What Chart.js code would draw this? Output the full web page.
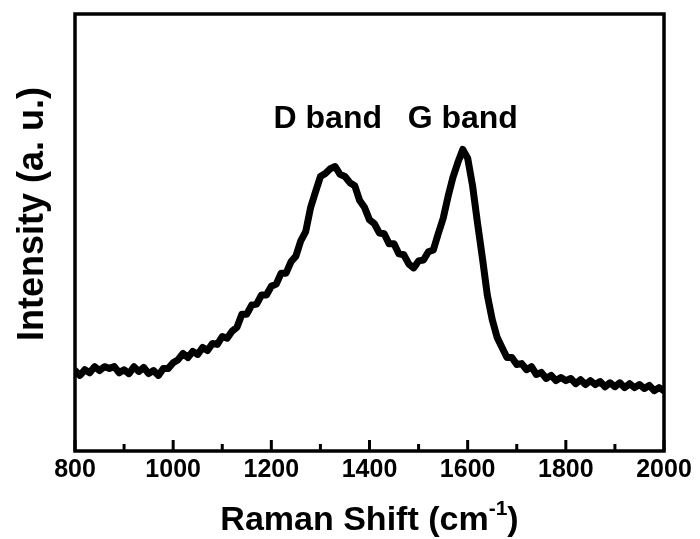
<!DOCTYPE html>
<html>
<head>
<meta charset="utf-8">
<script src="https://cdn.jsdelivr.net/npm/chart.js@4.4.1/dist/chart.umd.min.js"></script>
<style>
  body { margin: 0; background: #fff; }
  canvas { display: block; }
</style>
</head>
<body>
<canvas id="ramanChart" width="700" height="539"></canvas>
<script>
const FONT = '"Liberation Sans", Arial, sans-serif';

// Raman shift (cm-1) and measured intensity (arbitrary units, 0..1000)
const ramanShift = [
  800, 810, 820, 830, 840, 850, 860, 870, 880, 890,
  900, 910, 920, 930, 940, 950, 960, 970, 980, 990,
  1000, 1010, 1020, 1030, 1040, 1050, 1060, 1070, 1080, 1090,
  1100, 1110, 1120, 1130, 1140, 1150, 1160, 1170, 1180, 1190,
  1200, 1210, 1220, 1230, 1240, 1250, 1260, 1270, 1280, 1290,
  1300, 1310, 1320, 1330, 1340, 1350, 1360, 1370, 1380, 1390,
  1400, 1410, 1420, 1430, 1440, 1450, 1460, 1470, 1480, 1490,
  1500, 1510, 1520, 1530, 1540, 1550, 1560, 1570, 1580, 1590,
  1600, 1610, 1620, 1630, 1640, 1650, 1660, 1670, 1680, 1690,
  1700, 1710, 1720, 1730, 1740, 1750, 1760, 1770, 1780, 1790,
  1800, 1810, 1820, 1830, 1840, 1850, 1860, 1870, 1880, 1890,
  1900, 1910, 1920, 1930, 1940, 1950, 1960, 1970, 1980, 1990,
  2000
];
const intensity = [
  184, 173, 186, 179, 193, 184, 193, 189, 193, 179,
  186, 177, 193, 182, 191, 177, 184, 173, 189, 189,
  202, 209, 223, 214, 228, 221, 237, 230, 246, 244,
  262, 258, 274, 283, 313, 313, 334, 336, 357, 357,
  377, 382, 407, 407, 433, 446, 481, 502, 557, 593,
  628, 635, 646, 651, 633, 628, 614, 607, 573, 557,
  529, 520, 499, 497, 474, 474, 451, 449, 428, 419,
  435, 437, 456, 460, 497, 532, 582, 626, 660, 690,
  670, 607, 522, 442, 357, 301, 260, 237, 214, 214,
  198, 200, 186, 193, 175, 180, 166, 173, 161, 168,
  161, 166, 154, 163, 152, 161, 152, 159, 147, 156,
  147, 156, 145, 154, 145, 152, 143, 150, 138, 145,
  138
];

// peak annotations
const bandNames = ['D band', 'G band'];
const bandShift = [1315, 1590];
const bandLevel = 738;

const minorTicks = [900, 1100, 1300, 1500, 1700, 1900];
const majorTicks = [800, 1000, 1200, 1400, 1600, 1800, 2000];

const framePlugin = {
  id: 'frame',
  beforeDraw(chart) {
    const ctx = chart.ctx;
    ctx.save();
    ctx.fillStyle = '#fff';
    ctx.fillRect(0, 0, chart.width, chart.height);
    ctx.restore();
  },
  afterDatasetsDraw(chart) {
    const { ctx, chartArea: a, scales: { x } } = chart;
    ctx.save();
    ctx.strokeStyle = '#000';
    ctx.lineWidth = 3.5;
    ctx.strokeRect(a.left, a.top, a.right - a.left, a.bottom - a.top);
    // inward ticks on the bottom axis
    ctx.lineWidth = 3;
    ctx.beginPath();
    majorTicks.forEach(v => {
      const px = x.getPixelForValue(v);
      ctx.moveTo(px, a.bottom);
      ctx.lineTo(px, a.bottom - 11);
    });
    minorTicks.forEach(v => {
      const px = x.getPixelForValue(v);
      ctx.moveTo(px, a.bottom);
      ctx.lineTo(px, a.bottom - 7);
    });
    ctx.stroke();
    ctx.restore();
  },
  afterDraw(chart) {
    const { ctx, chartArea: a, scales: { x, y } } = chart;
    ctx.save();
    ctx.fillStyle = '#000';

    // band labels
    ctx.font = 'bold 32px ' + FONT;
    ctx.textAlign = 'center';
    ctx.textBaseline = 'alphabetic';
    bandNames.forEach((name, i) => {
      ctx.fillText(name, x.getPixelForValue(bandShift[i]), y.getPixelForValue(bandLevel));
    });

    // x axis title with superscript
    const main = 'Raman Shift (cm';
    const sup = '-1';
    const close = ')';
    ctx.font = 'bold 34px ' + FONT;
    const wMain = ctx.measureText(main).width;
    const wClose = ctx.measureText(close).width;
    ctx.font = 'bold 21px ' + FONT;
    const wSup = ctx.measureText(sup).width;
    const total = wMain + wSup + wClose;
    let tx = (a.left + a.right) / 2 - total / 2;
    const base = 530;
    ctx.textAlign = 'left';
    ctx.font = 'bold 34px ' + FONT;
    ctx.fillText(main, tx, base);
    tx += wMain;
    ctx.font = 'bold 21px ' + FONT;
    ctx.fillText(sup, tx, base - 15);
    tx += wSup;
    ctx.font = 'bold 34px ' + FONT;
    ctx.fillText(close, tx, base);

    // y axis title
    ctx.translate(43, 214);
    ctx.rotate(-Math.PI / 2);
    ctx.textAlign = 'center';
    ctx.font = 'bold 36px ' + FONT;
    ctx.fillText('Intensity (a. u.)', 0, 0);
    ctx.restore();
  }
};

new Chart(document.getElementById('ramanChart'), {
  type: 'line',
  data: {
    datasets: [{
      data: ramanShift.map((s, i) => ({ x: s, y: intensity[i] })),
      borderColor: '#000',
      borderWidth: 7,
      borderJoinStyle: 'round',
      borderCapStyle: 'round',
      pointRadius: 0,
      tension: 0,
      fill: false
    }]
  },
  options: {
    responsive: false,
    animation: false,
    layout: { padding: { left: 75, right: 36, top: 14, bottom: 50 } },
    plugins: {
      legend: { display: false },
      tooltip: { enabled: false }
    },
    scales: {
      x: {
        type: 'linear',
        min: 800,
        max: 2000,
        grid: { display: false, drawTicks: false },
        border: { display: false },
        ticks: {
          stepSize: 200,
          padding: 4,
          maxRotation: 0,
          color: '#000',
          font: { family: FONT, size: 25, weight: 'bold' },
          callback: v => String(v)
        }
      },
      y: { display: false, min: 0, max: 1000 }
    }
  },
  plugins: [framePlugin]
});
</script>
</body>
</html>
